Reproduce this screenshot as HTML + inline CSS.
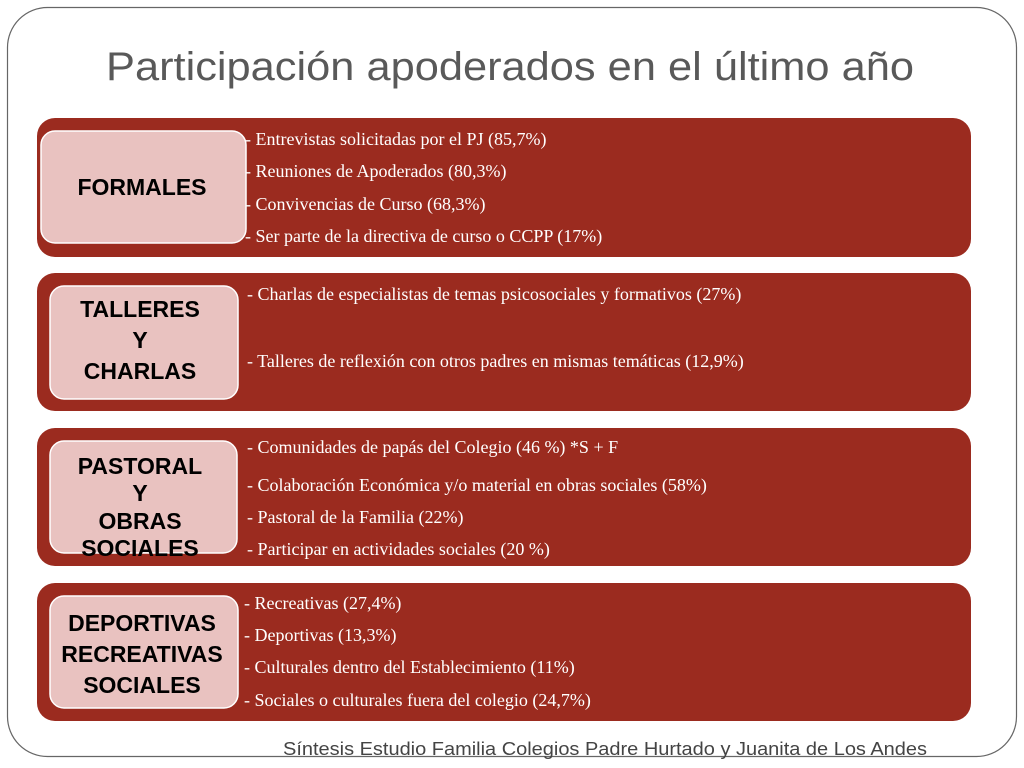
<!DOCTYPE html>
<html><head><meta charset="utf-8"><style>
html,body{margin:0;padding:0;background:#fff}
svg{display:block}
.t{font-family:"Liberation Serif",serif;font-size:18px;fill:#fff}
.b{font-family:"Liberation Sans",sans-serif;font-weight:bold;font-size:23px;fill:#000;text-anchor:middle}
</style></head><body>
<svg width="1024" height="768" viewBox="0 0 1024 768" xmlns="http://www.w3.org/2000/svg">
<rect x="7.5" y="7.5" width="1009" height="749" rx="40" fill="#fff" stroke="#666" stroke-width="1.2"/>
<text x="510" y="80" text-anchor="middle" font-family="Liberation Sans, sans-serif" font-size="40" fill="#595959" textLength="808" lengthAdjust="spacingAndGlyphs">Participación apoderados en el último año</text>

<g>
<rect x="37" y="118" width="934" height="139" rx="18" fill="#9b2b1f"/>
<rect x="41" y="131" width="205" height="112" rx="14" fill="#e9c2c0" stroke="#fff" stroke-width="1.5"/>
<text class="b" x="142" y="195">FORMALES</text>
<text class="t" x="245" y="145">- Entrevistas solicitadas por el PJ (85,7%)</text>
<text class="t" x="245" y="177">- Reuniones de Apoderados  (80,3%)</text>
<text class="t" x="245" y="210">- Convivencias de Curso (68,3%)</text>
<text class="t" x="245" y="242">- Ser parte de la directiva de curso o CCPP (17%)</text>
</g>

<g>
<rect x="37" y="273" width="934" height="138" rx="18" fill="#9b2b1f"/>
<rect x="50" y="286" width="188" height="113" rx="14" fill="#e9c2c0" stroke="#fff" stroke-width="1.5"/>
<text class="b" x="140" y="317">TALLERES</text>
<text class="b" x="140" y="348">Y</text>
<text class="b" x="140" y="379">CHARLAS</text>
<text class="t" x="247" y="300">- Charlas de especialistas de temas psicosociales y formativos (27%)</text>
<text class="t" x="247" y="367">- Talleres de reflexión con otros padres en mismas temáticas (12,9%)</text>
</g>

<g>
<rect x="37" y="428" width="934" height="138" rx="18" fill="#9b2b1f"/>
<rect x="50" y="441" width="187" height="112" rx="14" fill="#e9c2c0" stroke="#fff" stroke-width="1.5"/>
<text class="b" x="140" y="474" font-size="21">PASTORAL</text>
<text class="b" x="140" y="501" font-size="21">Y</text>
<text class="b" x="140" y="529" font-size="21">OBRAS</text>
<text class="b" x="140" y="556" font-size="21">SOCIALES</text>
<text class="t" x="247" y="453">- Comunidades de papás del Colegio (46 %)         *S + F</text>
<text class="t" x="247" y="491">-  Colaboración Económica y/o material en obras sociales  (58%)</text>
<text class="t" x="247" y="523">-  Pastoral de la Familia (22%)</text>
<text class="t" x="247" y="555">-  Participar en actividades sociales  (20 %)</text>
</g>

<g>
<rect x="37" y="583" width="934" height="138" rx="18" fill="#9b2b1f"/>
<rect x="50" y="596" width="188" height="112" rx="14" fill="#e9c2c0" stroke="#fff" stroke-width="1.5"/>
<text class="b" x="142" y="631">DEPORTIVAS</text>
<text class="b" x="142" y="662">RECREATIVAS</text>
<text class="b" x="142" y="693">SOCIALES</text>
<text class="t" x="244" y="609">- Recreativas (27,4%)</text>
<text class="t" x="244" y="641">- Deportivas (13,3%)</text>
<text class="t" x="244" y="673">- Culturales dentro del Establecimiento (11%)</text>
<text class="t" x="244" y="706">- Sociales o culturales fuera del colegio (24,7%)</text>
</g>

<text x="283" y="755" font-family="Liberation Sans, sans-serif" font-size="18" fill="#444" textLength="644" lengthAdjust="spacingAndGlyphs">Síntesis  Estudio Familia Colegios Padre Hurtado y Juanita de Los Andes</text>
</svg>
</body></html>
